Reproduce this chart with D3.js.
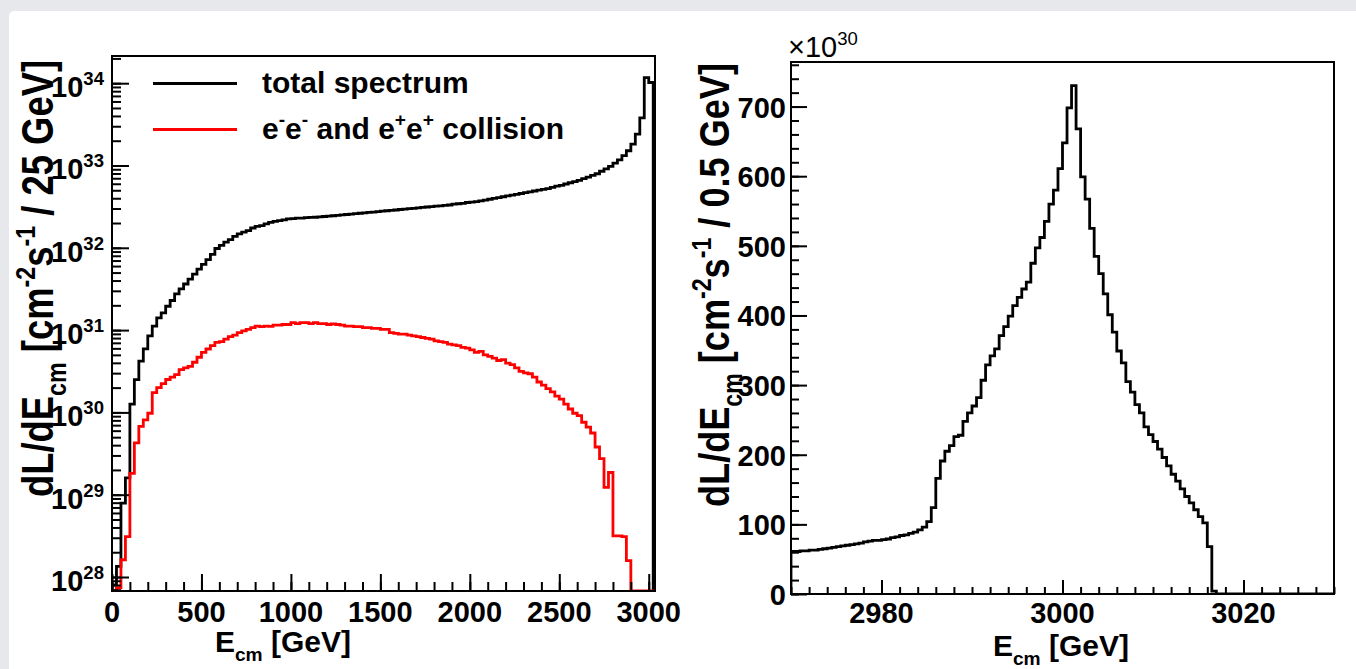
<!DOCTYPE html>
<html>
<head>
<meta charset="utf-8">
<title>dL/dE_cm spectrum</title>
<script src="https://cdn.jsdelivr.net/npm/d3@7/dist/d3.min.js"></script>
<style>
    html, body { margin: 0; padding: 0; background: #e6e8ec; overflow: hidden; }
    svg { display: block; font-family: "Liberation Sans", Arial, Helvetica, sans-serif; }
    .label { font-weight: bold; fill: #000; }
</style>
</head>
<body>
<svg id="chart" width="1356" height="669"></svg>
<script>
"use strict";

//=========================== data
// left plot: luminosity per 25 GeV bin, first bin starts at 0 GeV [cm^-2 s^-1]
var fullFirstEdge = 0;
var fullBinWidth = 25;

var totalSpectrum = [
    8e27, 1.35e28, 7.9e28, 1.6e29, 1.26e30, 2.5e30, 4.2e30, 5.9e30, 8.5e30, 1.12e31,
    1.41e31, 1.62e31, 1.95e31, 2.29e31, 2.75e31, 3.16e31, 3.63e31, 4.17e31, 4.79e31, 5.5e31,
    6.3e31, 7.2e31, 8.3e31, 9.8e31, 1.07e32, 1.17e32, 1.26e32, 1.38e32, 1.48e32, 1.55e32,
    1.62e32, 1.74e32, 1.82e32, 1.86e32, 1.95e32, 2.04e32, 2.09e32, 2.14e32, 2.19e32, 2.24e32,
    2.26e32, 2.29e32, 2.29e32, 2.32e32, 2.34e32, 2.35e32, 2.37e32, 2.40e32, 2.42e32, 2.45e32,
    2.48e32, 2.51e32, 2.54e32, 2.57e32, 2.60e32, 2.63e32, 2.66e32, 2.69e32, 2.72e32, 2.75e32,
    2.79e32, 2.82e32, 2.85e32, 2.88e32, 2.92e32, 2.95e32, 2.99e32, 3.02e32, 3.06e32, 3.09e32,
    3.13e32, 3.16e32, 3.20e32, 3.24e32, 3.28e32, 3.31e32, 3.39e32, 3.43e32, 3.47e32, 3.55e32,
    3.59e32, 3.63e32, 3.72e32, 3.80e32, 3.89e32, 3.98e32, 4.07e32, 4.17e32, 4.27e32, 4.37e32,
    4.47e32, 4.57e32, 4.68e32, 4.79e32, 4.90e32, 5.01e32, 5.13e32, 5.25e32, 5.43e32, 5.62e32,
    5.75e32, 5.96e32, 6.17e32, 6.38e32, 6.61e32, 6.92e32, 7.24e32, 7.59e32, 7.94e32, 8.51e32,
    9.12e32, 9.77e32, 1.07e33, 1.17e33, 1.32e33, 1.51e33, 1.82e33, 2.40e33, 3.80e33, 1.17e34,
    1.02e34, 0
];

var sameSignSpectrum = [
    0, 7.4e27, 1.62e28, 3.09e28, 1.82e29, 4.27e29, 6.76e29, 8.13e29, 9.77e29, 1.74e30,
    2.0e30, 2.24e30, 2.51e30, 2.69e30, 2.88e30, 3.31e30, 3.47e30, 3.63e30, 4.07e30, 4.68e30,
    5.37e30, 5.89e30, 6.46e30, 7.08e30, 7.24e30, 7.76e30, 8.32e30, 8.71e30, 9.33e30, 9.77e30,
    1.02e31, 1.07e31, 1.12e31, 1.10e31, 1.12e31, 1.11e31, 1.15e31, 1.15e31, 1.17e31, 1.17e31,
    1.23e31, 1.20e31, 1.23e31, 1.23e31, 1.20e31, 1.23e31, 1.20e31, 1.20e31, 1.17e31, 1.19e31,
    1.17e31, 1.15e31, 1.12e31, 1.12e31, 1.10e31, 1.10e31, 1.07e31, 1.07e31, 1.05e31, 1.05e31,
    1.02e31, 1.02e31, 9.33e30, 9.12e30, 8.91e30, 8.91e30, 8.71e30, 8.51e30, 8.32e30, 8.13e30,
    7.94e30, 7.76e30, 7.41e30, 7.24e30, 7.08e30, 6.76e30, 6.61e30, 6.46e30, 6.17e30, 6.03e30,
    5.75e30, 5.37e30, 5.50e30, 5.01e30, 4.79e30, 4.57e30, 4.27e30, 4.37e30, 3.98e30, 3.80e30,
    3.47e30, 3.16e30, 3.02e30, 2.95e30, 2.69e30, 2.34e30, 2.14e30, 1.95e30, 1.78e30, 1.58e30,
    1.45e30, 1.26e30, 1.10e30, 9.77e29, 9.12e29, 7.59e29, 6.61e29, 5.62e29, 3.80e29, 2.75e29,
    1.23e29, 1.86e29, 3.16e28, 3.16e28, 3.09e28, 1.58e28, 0, 0, 0, 0,
    0, 0
];

// right plot: zoom on the peak, 0.5 GeV bins from 2970 GeV [10^30 cm^-2 s^-1]
var peakFirstEdge = 2970;
var peakBinWidth = 0.5;

var peakSpectrum = [
    61, 61, 62, 62, 63, 63, 64, 65, 66, 67,
    68, 69, 70, 71, 72, 73, 75, 76, 77, 77,
    78, 79, 81, 82, 84, 85, 87, 89, 92, 96,
    104, 124, 166, 191, 205, 213, 226, 228, 248, 260,
    270, 282, 307, 329, 342, 352, 371, 384, 399, 414,
    426, 438, 448, 475, 497, 512, 535, 560, 580, 611,
    648, 698, 730, 668, 599, 567, 525, 485, 460, 431,
    401, 376, 349, 332, 305, 290, 272, 260, 240, 229,
    219, 208, 196, 184, 172, 162, 151, 140, 131, 121,
    111, 102, 68, 4, 0, 0, 0, 0, 0, 0,
    0, 0, 0, 0, 0, 0, 0, 0, 0, 0,
    0, 0, 0, 0, 0, 0, 0, 0, 0, 0
];

// tick labels
var fullXTicks = [0, 500, 1000, 1500, 2000, 2500, 3000];
var fullYDecades = [28, 29, 30, 31, 32, 33, 34];
var peakXTicks = [2980, 3000, 3020];
var peakYTicks = [0, 100, 200, 300, 400, 500, 600, 700];

// legend and titles (sup / sub mark the small raised or lowered pieces)
var legendTotal = [{t: "total spectrum"}];
var legendSameSign = [
    {t: "e"}, {t: "-", sup: true}, {t: "e"}, {t: "-", sup: true},
    {t: " and e"}, {t: "+", sup: true}, {t: "e"}, {t: "+", sup: true}, {t: " collision"}
];
var xTitle = [{t: "E"}, {t: "cm", sub: true}, {t: " [GeV]"}];
var fullYTitle = [
    {t: "dL/dE"}, {t: "cm", sub: true}, {t: " [cm"}, {t: "-2", sup: true},
    {t: "s"}, {t: "-1", sup: true}, {t: " / 25 GeV]"}
];
var peakYTitle = [
    {t: "dL/dE"}, {t: "cm", sub: true}, {t: " [cm"}, {t: "-2", sup: true},
    {t: "s"}, {t: "-1", sup: true}, {t: " / 0.5 GeV]"}
];


//=========================== page
var svg = d3.select("#chart");

//grey slide edge with the white sheet on top of it
svg.append("rect")
    .attr("width", 1356)
    .attr("height", 669)
    .attr("fill", "#e6e8ec");
svg.append("rect")
    .attr("x", 9)
    .attr("y", 11)
    .attr("width", 1400)
    .attr("height", 700)
    .attr("rx", 5)
    .attr("fill", "#ffffff");

//frames of the two pads
var L = {left: 112, right: 655, top: 56, bottom: 591};
var R = {left: 791, right: 1334, top: 62, bottom: 594};

var xFull = d3.scaleLinear().domain([0, 3035]).range([L.left, L.right]);
var yFull = d3.scaleLog().domain([6.76e27, 2.14e34]).range([L.bottom, L.top]).clamp(true);
var xPeak = d3.scaleLinear().domain([2970, 3030]).range([R.left, R.right]);
var yPeak = d3.scaleLinear().domain([0, 764]).range([R.bottom, R.top]).clamp(true);


//=========================== helpers
//writes parts of a label into a text element, raising / lowering sup and sub pieces
function richText(text, parts, size) {
    var shift = 0;
    parts.forEach(function(p) {
        var target = p.sup ? -0.42 * size : (p.sub ? 0.3 * size : 0);
        text.append("tspan")
            .attr("dy", target - shift)
            .style("font-size", (p.sup || p.sub ? 0.64 * size : size) + "px")
            .text(p.t);
        shift = target;
    });
    return text;
}

//step outline of a histogram, empty bins sit on the floor of the axis
function histPath(x, y, firstEdge, width, values, floor) {
    var pts = [[firstEdge, floor]];
    values.forEach(function(v, i) {
        var lo = firstEdge + i * width;
        var val = Math.max(v, floor);
        pts.push([lo, val], [lo + width, val]);
    });
    pts.push([firstEdge + values.length * width, floor]);
    return d3.line()
        .x(function(d) { return x(d[0]); })
        .y(function(d) { return y(d[1]); })(pts);
}

function clipRect(id, box) {
    svg.append("clipPath")
        .attr("id", id)
        .append("rect")
            .attr("x", box.left)
            .attr("y", box.top)
            .attr("width", box.right - box.left)
            .attr("height", box.bottom - box.top);
}

//inward ticks with d3's axes, no labels (labels are drawn by hand below)
function ticks(axis, transform, values, size) {
    var g = svg.append("g")
        .attr("transform", transform)
        .style("color", "#000")
        .call(axis.tickValues(values).tickSize(-size).tickFormat(""));
    g.select(".domain").remove();
    g.selectAll("line").attr("stroke-width", 2);
}

//rotated y title, fitted to the length it has in the picture
function yTitle(x0, y0, parts, length) {
    var g = svg.append("g")
        .attr("transform", "translate(" + x0 + "," + y0 + ") scale(1.2,1) rotate(-90)");
    var t = richText(g.append("text").attr("class", "label"), parts, 36);
    var fs = 36 * length / t.node().getComputedTextLength();
    t.selectAll("tspan").remove();
    richText(t, parts, fs);
}

clipRect("clip-full", L);
clipRect("clip-peak", R);


//=========================== left pad: full spectrum, log scale
var floorFull = yFull.domain()[0];

svg.append("path")
    .attr("clip-path", "url(#clip-full)")
    .attr("d", histPath(xFull, yFull, fullFirstEdge, fullBinWidth, totalSpectrum, floorFull))
    .attr("fill", "none")
    .attr("stroke", "#000")
    .attr("stroke-width", 2.8);

svg.append("path")
    .attr("clip-path", "url(#clip-full)")
    .attr("d", histPath(xFull, yFull, fullFirstEdge, fullBinWidth, sameSignSpectrum, floorFull))
    .attr("fill", "none")
    .attr("stroke", "#ff0000")
    .attr("stroke-width", 2.8);

// x ticks: every 100 GeV, long ones on the labels
ticks(d3.axisBottom(xFull), "translate(0," + L.bottom + ")", xFull.ticks(30), 9);
ticks(d3.axisBottom(xFull), "translate(0," + L.bottom + ")", fullXTicks, 17);

// y ticks: 1..9 x 10^n, long ones on the decades
var decadeValues = fullYDecades.map(function(e) { return Math.pow(10, e); });
ticks(d3.axisLeft(yFull), "translate(" + L.left + ",0)", yFull.ticks(), 9);
ticks(d3.axisLeft(yFull), "translate(" + L.left + ",0)", decadeValues, 17);

svg.append("rect")
    .attr("x", L.left)
    .attr("y", L.top)
    .attr("width", L.right - L.left)
    .attr("height", L.bottom - L.top)
    .attr("fill", "none")
    .attr("stroke", "#000")
    .attr("stroke-width", 2);

svg.append("g").selectAll("text")
    .data(fullXTicks)
    .enter()
    .append("text")
        .attr("class", "label")
        .attr("x", function(d) { return xFull(d); })
        .attr("y", 622)
        .attr("text-anchor", "middle")
        .style("font-size", "29px")
        .text(function(d) { return d; });

svg.append("g").selectAll("text")
    .data(fullYDecades)
    .enter()
    .append("text")
        .attr("class", "label")
        .attr("x", 104)
        .attr("y", function(d) { return yFull(Math.pow(10, d)) + 14; })
        .attr("text-anchor", "end")
        .each(function(d) {
            richText(d3.select(this), [{t: "10"}, {t: String(d), sup: true}], 29);
        });

richText(svg.append("text")
    .attr("class", "label")
    .attr("x", 283)
    .attr("y", 652)
    .attr("text-anchor", "middle"), xTitle, 30);

yTitle(53, 497, fullYTitle, 437);

// legend (no box)
svg.append("line")
    .attr("x1", 153).attr("x2", 237)
    .attr("y1", 83.5).attr("y2", 83.5)
    .attr("stroke", "#000")
    .attr("stroke-width", 3);
svg.append("line")
    .attr("x1", 153).attr("x2", 237)
    .attr("y1", 129.5).attr("y2", 129.5)
    .attr("stroke", "#ff0000")
    .attr("stroke-width", 3);
richText(svg.append("text").attr("class", "label").attr("x", 262).attr("y", 93), legendTotal, 30);
richText(svg.append("text").attr("class", "label").attr("x", 262).attr("y", 139), legendSameSign, 30);


//=========================== right pad: the peak, linear scale
svg.append("path")
    .attr("clip-path", "url(#clip-peak)")
    .attr("d", histPath(xPeak, yPeak, peakFirstEdge, peakBinWidth, peakSpectrum, 0))
    .attr("fill", "none")
    .attr("stroke", "#000")
    .attr("stroke-width", 2.8);

ticks(d3.axisBottom(xPeak), "translate(0," + R.bottom + ")", xPeak.ticks(30), 7);
ticks(d3.axisBottom(xPeak), "translate(0," + R.bottom + ")", peakXTicks, 14);
ticks(d3.axisLeft(yPeak), "translate(" + R.left + ",0)", yPeak.ticks(38), 8);
ticks(d3.axisLeft(yPeak), "translate(" + R.left + ",0)", peakYTicks, 16);

svg.append("rect")
    .attr("x", R.left)
    .attr("y", R.top)
    .attr("width", R.right - R.left)
    .attr("height", R.bottom - R.top)
    .attr("fill", "none")
    .attr("stroke", "#000")
    .attr("stroke-width", 2);

svg.append("g").selectAll("text")
    .data(peakXTicks)
    .enter()
    .append("text")
        .attr("class", "label")
        .attr("x", function(d) { return xPeak(d); })
        .attr("y", 623)
        .attr("text-anchor", "middle")
        .style("font-size", "29px")
        .text(function(d) { return d; });

svg.append("g").selectAll("text")
    .data(peakYTicks)
    .enter()
    .append("text")
        .attr("class", "label")
        .attr("x", 786)
        .attr("y", function(d) { return yPeak(d) + 11; })
        .attr("text-anchor", "end")
        .style("font-size", "29px")
        .text(function(d) { return d; });

// common exponent of the y axis
richText(svg.append("text")
    .attr("x", 788)
    .attr("y", 57)
    .style("fill", "#000"), [{t: "\u00d710"}, {t: "30", sup: true}], 29);

richText(svg.append("text")
    .attr("class", "label")
    .attr("x", 1061)
    .attr("y", 656)
    .attr("text-anchor", "middle"), xTitle, 30);

yTitle(729, 507, peakYTitle, 444);
</script>
</body>
</html>
